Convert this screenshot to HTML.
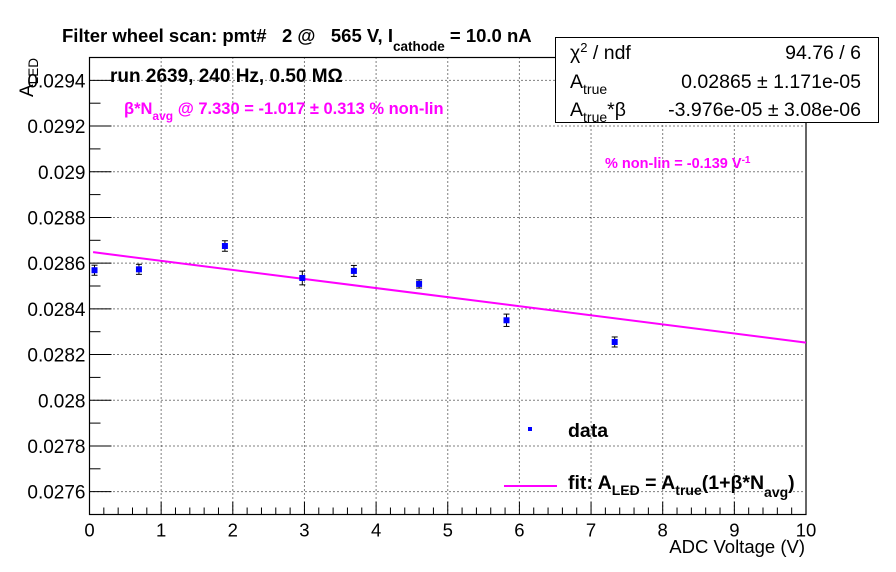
<!DOCTYPE html>
<html><head><meta charset="utf-8"><style>
body{margin:0;background:#fff}
svg{display:block;font-family:"Liberation Sans",Arial,sans-serif}
</style></head><body>
<svg id="c" width="896" height="572" viewBox="0 0 896 572">
<rect width="896" height="572" fill="#fff"/>
<g id="grid"></g>
<g id="axes"></g>
<g id="fit"></g>
<g id="pts"></g>
<text x="62" y="42" font-size="18.5" font-weight="bold">Filter wheel scan: pmt#&#160;&#160; 2 @&#160;&#160; 565 V, I<tspan font-size="13.5" dy="9">cathode</tspan><tspan dy="-9"> = 10.0 nA</tspan></text>
<text transform="translate(33,97) rotate(-90)" font-size="19">A<tspan font-size="13.5" dy="5">LED</tspan></text>
<text x="805" y="553" font-size="18.5" text-anchor="end">ADC Voltage (V)</text>
<text x="110" y="82" font-size="19" font-weight="bold">run 2639, 240 Hz, 0.50 MΩ</text>
<text x="124" y="114" font-size="16.5" font-weight="bold" fill="#ff00ff">β*N<tspan font-size="12" dy="6">avg</tspan><tspan dy="-6"> @ 7.330 = -1.017 ± 0.313 % non-lin</tspan></text>
<text x="605" y="168" font-size="14.5" font-weight="bold" fill="#ff00ff">% non-lin = -0.139 V<tspan font-size="10" dy="-5">-1</tspan></text>
<g>
<rect x="555.5" y="37.5" width="323" height="85" fill="#fff" stroke="#000"/>
<text x="570" y="59" font-size="19.5">χ<tspan font-size="13" dy="-7">2</tspan><tspan dy="7"> / ndf</tspan></text>
<text x="861" y="59" font-size="19.5" text-anchor="end">94.76 / 6</text>
<text x="570" y="88" font-size="19.5">A<tspan font-size="14" dy="6">true</tspan></text>
<text x="861" y="88" font-size="19.5" text-anchor="end">0.02865 ± 1.171e-05</text>
<text x="570" y="116" font-size="19.5">A<tspan font-size="14" dy="6">true</tspan><tspan dy="-6">*β</tspan></text>
<text x="861" y="116" font-size="19.5" text-anchor="end">-3.976e-05 ± 3.08e-06</text>
</g>
<g>
<rect x="528" y="427" width="4" height="4" fill="#0000ff"/>
<text x="568" y="437" font-size="19.5" font-weight="bold">data</text>
<line x1="504" y1="486" x2="557" y2="486" stroke="#ff00ff" stroke-width="2"/>
<text x="568" y="489" font-size="19.5" font-weight="bold">fit: A<tspan font-size="14" dy="6">LED</tspan><tspan dy="-6"> = A</tspan><tspan font-size="14" dy="6">true</tspan><tspan dy="-6">(1+β*N</tspan><tspan font-size="14" dy="8">avg</tspan><tspan dy="-8">)</tspan></text>
</g>
</svg>
<script>
const xVals=[0.07,0.69,1.89,2.97,3.69,4.60,5.82,7.33];
const yVals=[0.028569,0.028573,0.028675,0.028535,0.028566,0.028509,0.028350,0.028255];
const yErrs=[0.000022,0.000022,0.000023,0.000030,0.000024,0.000018,0.000027,0.000022];
const fitA=0.02865, fitAB=-3.976e-05;
const xTicks=[0,1,2,3,4,5,6,7,8,9,10];
const yTicks=[0.0276,0.0278,0.028,0.0282,0.0284,0.0286,0.0288,0.029,0.0292,0.0294];
const yTickLabels=["0.0276","0.0278","0.028","0.0282","0.0284","0.0286","0.0288","0.029","0.0292","0.0294"];
const L=89.5,R=806,T=57.5,B=514.5,x0=0,x1=10,y0=0.0275,y1=0.0295;
const sx=v=>L+(v-x0)/(x1-x0)*(R-L);
const sy=v=>B-(v-y0)/(y1-y0)*(B-T);
const NS="http://www.w3.org/2000/svg";
function mk(t,a,p){const e=document.createElementNS(NS,t);for(const k in a)e.setAttribute(k,a[k]);p.appendChild(e);return e;}
const grid=document.getElementById('grid'),axes=document.getElementById('axes'),fit=document.getElementById('fit'),pts=document.getElementById('pts');
xTicks.forEach(v=>{if(v>x0&&v<x1){const g=mk('line',{x1:sx(v),x2:sx(v),y1:T,y2:B,stroke:'#000','stroke-width':1,'stroke-dasharray':'1,3'},grid);

}});
yTicks.forEach(v=>{const g=mk('line',{x1:L,x2:R,y1:sy(v),y2:sy(v),stroke:'#000','stroke-width':1,'stroke-dasharray':'1,3'},grid);

});
mk('rect',{x:L,y:T,width:R-L,height:B-T,fill:'none',stroke:'#000','stroke-width':1.2},axes);
for(let i=0;i<=50;i++){const v=x0+i*(x1-x0)/50;const maj=i%5===0;mk('line',{x1:sx(v),x2:sx(v),y1:B,y2:B-(maj?13:7),stroke:'#000'},axes);}
for(let i=0;i<=20;i++){const v=y0+i*(y1-y0)/20;const maj=(i%2===1);mk('line',{x1:L,x2:L+(maj?22:11),y1:sy(v),y2:sy(v),stroke:'#000'},axes);}
xTicks.forEach(v=>{const t=mk('text',{x:sx(v),y:B+22,'font-size':18.5,'text-anchor':'middle'},axes);t.textContent=String(v);

});
yTicks.forEach((v,i)=>{const t=mk('text',{x:L-4,y:sy(v)+7,'font-size':19,'text-anchor':'end'},axes);t.textContent=yTickLabels[i];

});
const fx0=0.05,fx1=10;
const fl=mk('line',{x1:sx(fx0),y1:sy(fitA+fitAB*fx0),x2:sx(fx1),y2:sy(fitA+fitAB*fx1),stroke:'#ff00ff','stroke-width':2},fit);


xVals.forEach((x,i)=>{const px=sx(x),py=sy(yVals[i]),e1=sy(yVals[i]+yErrs[i]),e2=sy(yVals[i]-yErrs[i]);
const g=mk('g',{},pts);


mk('line',{x1:px,x2:px,y1:e1,y2:e2,stroke:'#000'},g);
mk('line',{x1:px-3,x2:px+3,y1:e1,y2:e1,stroke:'#000'},g);
mk('line',{x1:px-3,x2:px+3,y1:e2,y2:e2,stroke:'#000'},g);
mk('rect',{x:px-3,y:py-3,width:6,height:6,fill:'#0000ff'},g);});
</script>
</body></html>
